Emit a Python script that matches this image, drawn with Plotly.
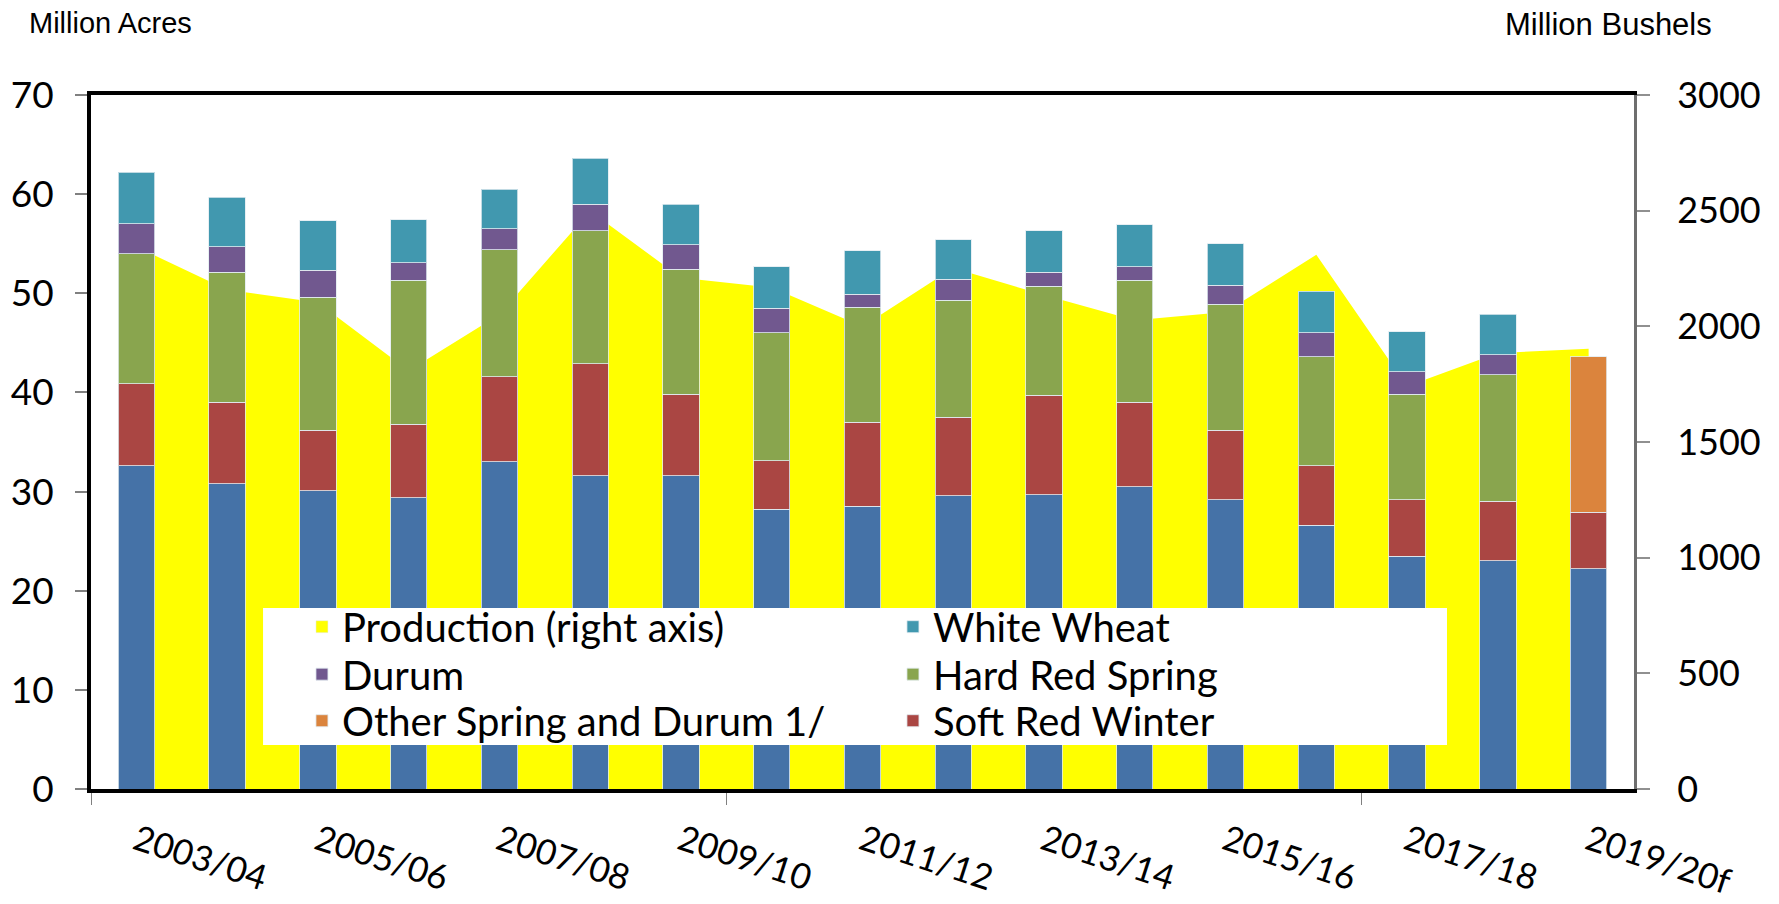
import plotly.graph_objects as go

# Marketing years shown on the x axis (one bar per year)
seasons = ["2003/04", "2004/05", "2005/06", "2006/07", "2007/08", "2008/09",
           "2009/10", "2010/11", "2011/12", "2012/13", "2013/14", "2014/15",
           "2015/16", "2016/17", "2017/18", "2018/19", "2019/20f"]

# Planted area by class, million acres
hard_red_winter = [32.6, 30.8, 30.1, 29.4, 33.0, 31.6, 31.6, 28.2, 28.5, 29.6,
                   29.7, 30.5, 29.2, 26.6, 23.5, 23.0, 22.2]
soft_red_winter = [8.3, 8.2, 6.1, 7.4, 8.6, 11.3, 8.2, 4.9, 8.5, 7.9,
                   10.0, 8.5, 7.0, 6.0, 5.7, 6.0, 5.7]
hard_red_spring = [13.1, 13.1, 13.4, 14.5, 12.8, 13.4, 12.6, 12.9, 11.6, 11.8,
                   11.0, 12.3, 12.7, 11.0, 10.6, 12.8, None]
durum = [3.0, 2.6, 2.7, 1.8, 2.1, 2.7, 2.5, 2.5, 1.3, 2.1,
         1.4, 1.4, 1.9, 2.4, 2.3, 2.0, None]
white_wheat = [5.2, 5.0, 5.0, 4.3, 4.0, 4.6, 4.1, 4.2, 4.4, 4.0,
               4.2, 4.2, 4.2, 4.2, 4.0, 4.1, None]
other_spring_durum = [None] * 16 + [15.7]

# Production, million bushels (right axis)
production = [2344, 2158, 2103, 1808, 2051, 2499, 2210, 2168, 1999, 2252,
              2135, 2026, 2062, 2309, 1741, 1885, 1903]

x = list(range(len(seasons)))
label_idx = x[::2]

font = "Lato, Open Sans, sans-serif"
bar_line = dict(color="rgba(225,235,240,0.8)", width=1)

fig = go.Figure()

# yellow production area, drawn on the base (right-hand) axis so bars sit above it
fig.add_trace(go.Scatter(
    x=x, y=production, mode="none", fill="tozeroy",
    fillcolor="#FFFF00", showlegend=False, yaxis="y", hoverinfo="y"))

# name, values, colour, legend row, order within row
classes = [
    ("Hard Red Winter", hard_red_winter, "#4572A7", None, 0),
    ("Soft Red Winter", soft_red_winter, "#AA4643", "legend3", 2),
    ("Hard Red Spring", hard_red_spring, "#89A54E", "legend2", 2),
    ("Durum", durum, "#71588F", "legend2", 1),
    ("White Wheat", white_wheat, "#4198AF", "legend", 2),
    ("Other Spring and Durum 1/", other_spring_durum, "#DB843D", "legend3", 1),
]
for name, vals, color, leg, rank in classes:
    fig.add_trace(go.Bar(
        x=x, y=vals, name=name, marker=dict(color=color, line=bar_line),
        yaxis="y2", legend=leg or "legend", legendrank=rank,
        showlegend=leg is not None))

# legend-only entry so production gets a square swatch like the original
fig.add_trace(go.Bar(
    x=[None], y=[None], name="Production (right axis)",
    marker=dict(color="#FFFF00"), yaxis="y2", legend="legend", legendrank=1))

# one horizontal legend per row so the rows sit as close as in the original
row_y = [0.2339, 0.1655, 0.0984]
legend_style = dict(
    orientation="h", x=0.1108, xanchor="left", yanchor="middle",
    bgcolor="rgba(0,0,0,0)", borderwidth=0, indentation=40,
    entrywidth=506, entrywidthmode="pixels", font=dict(size=40),
    traceorder="normal",
)

# the page body adds an 8px offset, so the figure is 8px smaller on each axis
fig.update_layout(
    width=1771, height=896,
    margin=dict(l=83, r=145, t=87, b=115),
    paper_bgcolor="white", plot_bgcolor="white",
    barmode="stack", bargap=0.6,
    font=dict(family=font, color="black", size=34),
    xaxis=dict(
        range=[-0.5, len(seasons) - 0.5], automargin=False,
        tickmode="array", tickvals=label_idx,
        ticktext=[seasons[i] for i in label_idx],
        ticks="", tickangle=18, ticklabelstandoff=14,
        tickfont=dict(size=35),
        showline=True, linecolor="black", linewidth=4, mirror=True,
        showgrid=False, zeroline=False,
        minor=dict(tickmode="array", tickvals=[-0.5, 6.5, 13.5],
                   ticks="outside", ticklen=12, tickcolor="#808080", tickwidth=1),
    ),
    yaxis=dict(
        side="right", range=[0, 3000], dtick=500, automargin=False,
        showline=True, linecolor="#6e6e6e", linewidth=3,
        ticks="outside", ticklen=13, tickcolor="#909090", tickwidth=2,
        ticklabelstandoff=20, tickfont=dict(size=36),
        showgrid=False, zeroline=False,
    ),
    yaxis2=dict(
        overlaying="y", side="left", range=[0, 70], dtick=10, automargin=False,
        showline=True, linecolor="black", linewidth=4,
        ticks="outside", ticklen=12, tickcolor="#808080", tickwidth=2,
        ticklabelstandoff=14, tickfont=dict(size=37),
        showgrid=False, zeroline=False,
    ),
    legend=dict(legend_style, y=row_y[0]),
    legend2=dict(legend_style, y=row_y[1]),
    legend3=dict(legend_style, y=row_y[2]),
    shapes=[
        # white legend box
        dict(type="rect", xref="paper", yref="paper", layer="above",
             x0=0.1115, x1=0.8788, y0=0.0634, y1=0.2608,
             fillcolor="white", line=dict(width=0)),
    ],
    annotations=[
        dict(text="Million Acres", xref="paper", yref="paper",
             x=-0.041, y=1.1035, xanchor="left", yanchor="middle",
             showarrow=False, borderpad=0,
             font=dict(family="Liberation Sans, Arial", size=29)),
        dict(text="Million Bushels", xref="paper", yref="paper",
             x=1.0512, y=1.1015, xanchor="right", yanchor="middle",
             showarrow=False, borderpad=0,
             font=dict(family="Liberation Sans, Arial", size=31)),
    ],
)

fig.write_html("out.html")
